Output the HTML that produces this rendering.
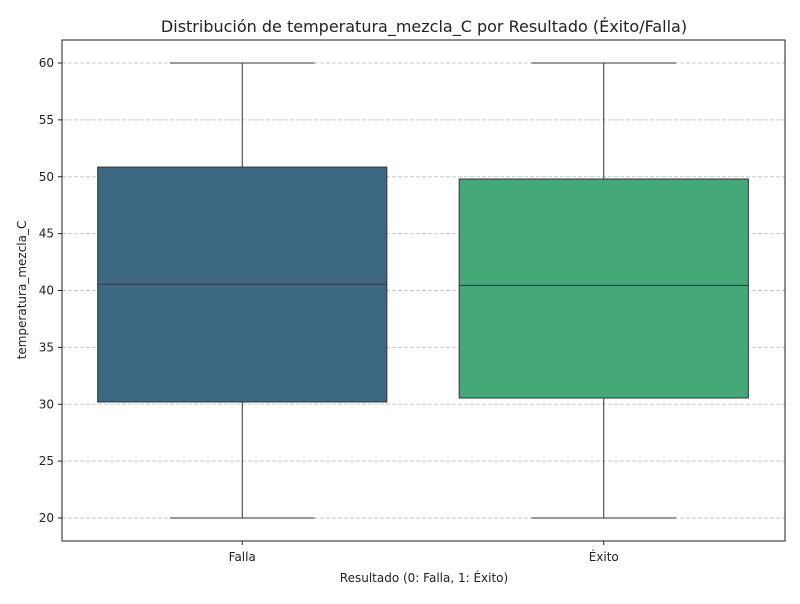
<!DOCTYPE html>
<html><head><meta charset="utf-8"><style>
body{margin:0;background:#fff;font-family:"DejaVu Sans","Liberation Sans",sans-serif}
svg text{font-family:"DejaVu Sans","Liberation Sans",sans-serif}
</style></head><body>
<svg id="c" width="800" height="600" xmlns="http://www.w3.org/2000/svg">
<rect width="800" height="600" fill="#fff"/>
<text x="424" y="32" text-anchor="middle" font-size="16" fill="#222">Distribución de temperatura_mezcla_C por Resultado (Éxito/Falla)</text>
<text x="424" y="582" text-anchor="middle" font-size="12" fill="#222">Resultado (0: Falla, 1: Éxito)</text>
<text transform="translate(26,290) rotate(-90)" text-anchor="middle" font-size="12" fill="#222">temperatura_mezcla_C</text>
<g id="grid"></g><g id="boxes"></g><g id="axes"></g>
</svg>
<script>
const categories=["Falla","Éxito"];
const mins=[20,20];
const q1s=[30.2,30.55];
const medians=[40.55,40.45];
const q3s=[50.85,49.8];
const maxs=[60,60];
const colors=["#3d6884","#45a878"];
const yTicks=[20,25,30,35,40,45,50,55,60];
const L=62,R=785,T=40,B=541;
const y=v=>63+(60-v)*(455/40);
const bw=(R-L)/categories.length;
const xc=i=>L+bw*(i+0.5)-0.5;
const ns="http://www.w3.org/2000/svg";
function mk(p,t,a){const e=document.createElementNS(ns,t);for(const k in a)e.setAttribute(k,a[k]);p.appendChild(e);return e;}
const g=document.getElementById('grid'),bx=document.getElementById('boxes'),ax=document.getElementById('axes');
yTicks.forEach(v=>{
 const l=mk(g,'line',{x1:L,x2:R,y1:y(v),y2:y(v),stroke:'#c8c8c8','stroke-dasharray':'4,2'});
 
 
 mk(ax,'line',{x1:L-4,x2:L,y1:y(v),y2:y(v),stroke:'#222'});
 const t=mk(ax,'text',{x:L-8,y:y(v)+4,'text-anchor':'end','font-size':12,fill:'#222'});t.textContent=v;
 
 
});
categories.forEach((c,i)=>{
 const cx=xc(i),hw=bw*0.4,cw=bw*0.2;
 const grp=mk(bx,'g',{});
 
 
 mk(grp,'line',{x1:cx,x2:cx,y1:y(q3s[i]),y2:y(maxs[i]),stroke:'#333'});
 mk(grp,'line',{x1:cx,x2:cx,y1:y(q1s[i]),y2:y(mins[i]),stroke:'#333'});
 mk(grp,'line',{x1:cx-cw,x2:cx+cw,y1:y(maxs[i]),y2:y(maxs[i]),stroke:'#333'});
 mk(grp,'line',{x1:cx-cw,x2:cx+cw,y1:y(mins[i]),y2:y(mins[i]),stroke:'#333'});
 mk(grp,'rect',{x:cx-hw,y:y(q3s[i]),width:2*hw,height:y(q1s[i])-y(q3s[i]),fill:colors[i],stroke:'#333'});
 mk(grp,'line',{x1:cx-hw,x2:cx+hw,y1:y(medians[i]),y2:y(medians[i]),stroke:'#333'});
 mk(ax,'line',{x1:cx,x2:cx,y1:B,y2:B+4,stroke:'#222'});
 const t=mk(ax,'text',{x:cx,y:B+20,'text-anchor':'middle','font-size':12,fill:'#222'});t.textContent=c;
 
 
});
const fr=mk(ax,'rect',{x:L,y:T,width:R-L,height:B-T,fill:'none',stroke:'#222'});


</script>
</body></html>
